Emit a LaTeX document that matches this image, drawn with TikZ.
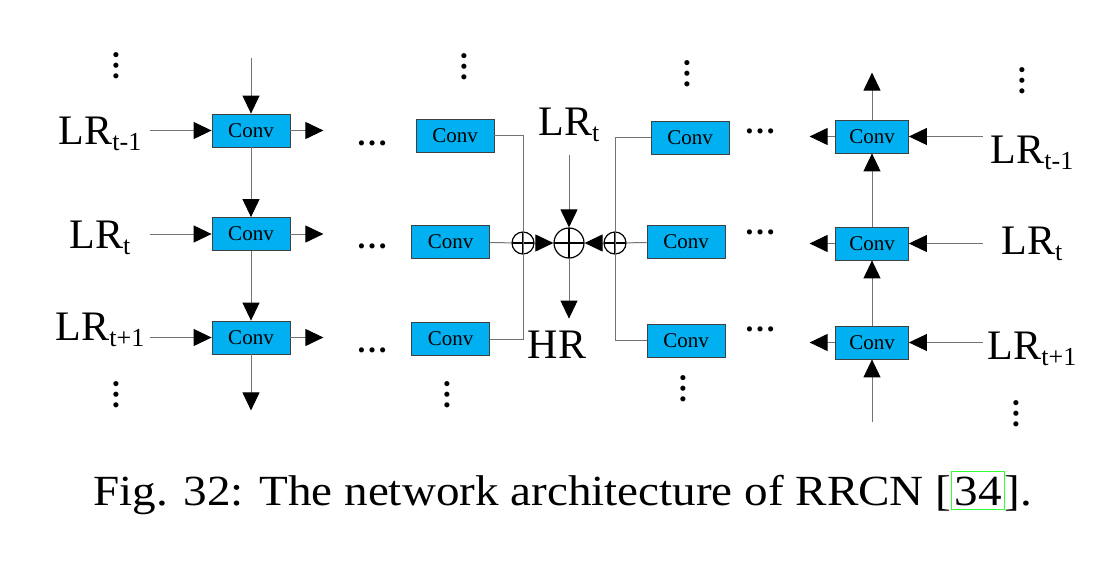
\documentclass[tikz,border=0pt]{standalone}
\usepackage{fontspec}
\setmainfont{Liberation Serif}
\usetikzlibrary{arrows.meta, positioning}
\definecolor{convblue}{HTML}{00B0F0}
\definecolor{linkgreen}{HTML}{33FF33}
\newcommand{\lr}[1]{LR\raisebox{-3pt}{\fontsize{13}{13}\selectfont #1}}
\tikzset{
  conv/.style={draw=black!75, fill=convblue, minimum width=39pt, minimum height=16.5pt, inner sep=0pt, font=\fontsize{10.5}{12}\selectfont},
  lrlab/.style={inner sep=0pt, font=\fontsize{21}{24}\selectfont},
  oplus/.style={circle, draw, line width=0.6pt, inner sep=0pt, path picture={\draw (path picture bounding box.north) -- (path picture bounding box.south) (path picture bounding box.west) -- (path picture bounding box.east);}},
  dotsn/.style={inner sep=0pt, text height=2.2pt, text depth=0pt, font=\bfseries\fontsize{15.75}{16}\selectfont},
  wire/.style={draw=black!55, line width=0.5pt},
  >={Triangle[length=9pt,width=8.5pt,color=black]}
}
\begin{document}
\begin{tikzpicture}[x=0.5pt, y=-0.5pt]
  \useasboundingbox (0,0) rectangle (1120,584);
  % left column
  \node[conv] (c1) at (251,130.5) {Conv};
  \node[conv] (c2) at (251,234) {Conv};
  \node[conv] (c3) at (251,337.5) {Conv};
  \node[lrlab, minimum width=50pt, anchor=base] (p1) at (100,144) {\lr{t-1}};
  \node[lrlab, minimum width=50pt, anchor=base] (p2) at (100,248) {\lr{t}};
  \node[lrlab, minimum width=50pt, anchor=base] (p3) at (100,340) {\lr{t+1}};
  \coordinate[above=28pt of c1] (c0);
  \coordinate[below=28pt of c3] (c4);
  \foreach \i in {1,2,3} {
    \coordinate[right=16.5pt of c\i] (o\i);
    \draw[wire, ->] (p\i.east |- c\i) -- (c\i);
    \draw[wire, ->] (c\i) -- (o\i);
  }
  \draw[wire, ->] (c0) -- (c1);
  \draw[wire, ->] (c1) -- (c2);
  \draw[wire, ->] (c2) -- (c3);
  \draw[wire, ->] (c3) -- (c4);

  % fusion in the middle
  \node[conv] (m1) at (455,135.5) {Conv};
  \node[conv] (m2) at (450.5,242) {Conv};
  \node[conv] (m3) at (450.5,339) {Conv};
  \node[oplus, minimum size=11pt] (sl) at (523,243) {};
  \node[oplus, minimum size=15pt] (sum) at (569,243) {};
  \node[oplus, minimum size=11pt] (sr) at (615,243) {};
  \node[conv] (n1) at (690,137.5) {Conv};
  \node[conv] (n2) at (686,242) {Conv};
  \node[conv] (n3) at (686,340.5) {Conv};
  \node[lrlab, anchor=base] (lt) at (569,135) {\lr{t}};
  \node[lrlab, anchor=base] (hr) at (557,358) {HR};
  \coordinate[below=10pt of lt.base] (ltin);
  \coordinate[below=30pt of sum] (hrout);
  \draw[wire] (m1.east) -| (m3.east -| sl) -- (m3.east);
  \draw[wire] (m2) -- (sl);
  \draw[wire] (n1.west) -| (n3.west -| sr) -- (n3.west);
  \draw[wire] (n2) -- (sr);
  \draw[wire, ->] (sl) -- (sum);
  \draw[wire, ->] (sr) -- (sum);
  \draw[wire, ->] (ltin) -- (sum);
  \draw[wire, ->] (sum) -- (hrout);

  % right column
  \node[conv, minimum width=36.5pt] (r1) at (872,136.5) {Conv};
  \node[conv, minimum width=36.5pt] (r2) at (872,243.5) {Conv};
  \node[conv, minimum width=36.5pt] (r3) at (872,342.5) {Conv};
  \node[lrlab, minimum width=49pt, anchor=base] (q1) at (1032,163) {\lr{t-1}};
  \node[lrlab, minimum width=49pt, anchor=base] (q2) at (1032,254) {\lr{t}};
  \node[lrlab, minimum width=49pt, anchor=base] (q3) at (1032,359) {\lr{t+1}};
  \coordinate[above=23.5pt of r1] (r0);
  \coordinate[below=31.5pt of r3] (r4);
  \foreach \i in {1,2,3} {
    \coordinate[left=12.75pt of r\i] (w\i);
    \draw[wire, ->] (q\i.west |- r\i) -- (r\i);
    \draw[wire, ->] (r\i) -- (w\i);
  }
  \draw[wire, ->] (r4) -- (r3);
  \draw[wire, ->] (r3) -- (r2);
  \draw[wire, ->] (r2) -- (r1);
  \draw[wire, ->] (r1) -- (r0);

  % dots
  \node[dotsn] (e1) at (372,143) {…};
  \node[dotsn] (e2) at (372,246) {…};
  \node[dotsn] (e3) at (372,350) {…};
  \node[dotsn] (f1) at (760,131) {…};
  \node[dotsn] (f2) at (760,232) {…};
  \node[dotsn] (f3) at (760,329) {…};
  \node[dotsn, rotate=90] (v1) at (116,65.5) {…};
  \node[dotsn, rotate=90] (v2) at (116,395) {…};
  \node[dotsn, rotate=90] (v3) at (464,66.5) {…};
  \node[dotsn, rotate=90] (v4) at (447,395) {…};
  \node[dotsn, rotate=90] (v5) at (687,73.5) {…};
  \node[dotsn, rotate=90] (v6) at (683,388.5) {…};
  \node[dotsn, rotate=90] (v7) at (1022,81) {…};
  \node[dotsn, rotate=90] (v8) at (1016,413.5) {…};

  % caption
  \node[anchor=base west, inner sep=0pt, xscale=1.095, font=\fontsize{21.5}{24}\selectfont] (cap) at (93,505)
    {Fig. 32: The network architecture of RRCN [{\color{linkgreen}\fboxsep=0pt\fboxrule=0.5pt\fbox{\color{black}\hspace{1pt}\rule[-2pt]{0pt}{18.5pt}34\hspace{1pt}}}].};
\end{tikzpicture}
\end{document}
